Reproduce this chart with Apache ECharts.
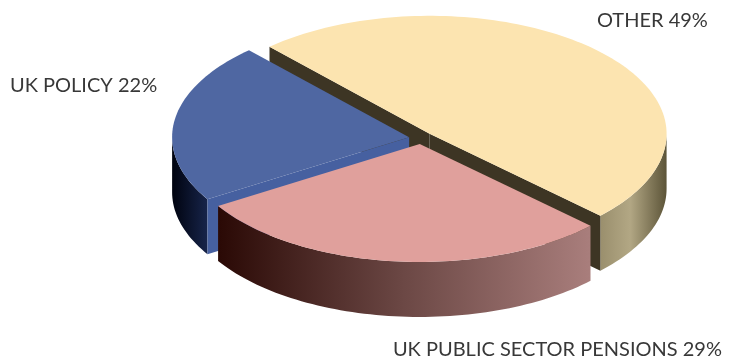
<!DOCTYPE html>
<html>
<head>
<meta charset="utf-8">
<script src="https://cdn.jsdelivr.net/npm/echarts@6/dist/echarts.min.js"></script>
<style>
  html, body { margin: 0; padding: 0; background: #ffffff; }
  #chart { width: 729px; height: 362px; }
</style>
</head>
<body>
<div id="chart"></div>
<script>
// Slices, in drawing order going clockwise from the upper-left cut
const categories = ['OTHER', 'UK PUBLIC SECTOR PENSIONS', 'UK POLICY'];
const shares = [49, 29, 22];

// Styling for each slice: top face, outer wall gradient, cut face
const topColors = ['#fce4b0', '#e0a09c', '#4f67a2'];
const wallStops = [
  [[0, '#9a8f6d'], [0.45, '#b2a784'], [1, '#5c5438']],
  [[0, '#2a0905'], [0.5, '#6c4845'], [1, '#a97e7c']],
  [[0, '#00030f'], [1, '#17244a']]
];
const cutColors = ['#3d3524', '#7a5250', '#4660a0'];

// Label placement (anchor x, centre y, alignment)
const labelLayout = [
  { x: 597, y: 21, align: 'left' },
  { x: 722, y: 350, align: 'right' },
  { x: 10, y: 86, align: 'left' }
];

// Pie geometry
const CX = 421, CY = 138;      // pie centre
const R = 237, RY = 118;       // ellipse radii of the tilted top
const DEPTH = 55;              // thickness of the disc
const EXPLODE = 12;            // how far each slice is pulled out
const START = 227.5;           // angle of the first cut, degrees (screen, clockwise)

const total = shares.reduce((a, b) => a + b, 0);
const rad = d => d * Math.PI / 180;

function sliceRange(i, value) {
  let a0 = START;
  for (let j = 0; j < i; j++) a0 += shares[j] / total * 360;
  return [a0, a0 + value / total * 360];
}

function arcPoints(vx, vy, from, to, dz) {
  const pts = [];
  const n = Math.max(2, Math.ceil(Math.abs(to - from) / 1.5));
  for (let k = 0; k <= n; k++) {
    const t = rad(from + (to - from) * k / n);
    pts.push([vx + R * Math.cos(t), vy + RY * Math.sin(t) + dz]);
  }
  return pts;
}

function renderSlice(params, api) {
  const i = params.dataIndex;
  const value = api.value(0);
  const [a0, a1] = sliceRange(i, value);
  const mid = rad((a0 + a1) / 2);
  const vx = CX + EXPLODE * Math.cos(mid);
  const vy = CY + EXPLODE * (RY / R) * Math.sin(mid);

  // slices further to the front are painted later
  const order = Math.round((Math.sin(mid) + 1) * 10);
  const children = [];

  // outer wall, only where it faces the viewer
  for (let n = -1; n <= 2; n++) {
    const lo = Math.max(a0, 360 * n);
    const hi = Math.min(a1, 360 * n + 180);
    if (hi > lo) {
      const topArc = arcPoints(vx, vy, lo, hi, 0);
      const botArc = arcPoints(vx, vy, hi, lo, DEPTH);
      children.push({
        type: 'polygon',
        z2: order * 10,
        shape: { points: topArc.concat(botArc) },
        style: {
          fill: new echarts.graphic.LinearGradient(0, 0, 1, 0,
            wallStops[i].map(s => ({ offset: s[0], color: s[1] }))),
          stroke: null
        }
      });
    }
  }

  // radial cut faces that turn toward the viewer
  const cutFace = (ang) => {
    const t = rad(ang);
    const px = vx + R * Math.cos(t), py = vy + RY * Math.sin(t);
    children.push({
      type: 'polygon',
      z2: order * 10 + 1,
      shape: { points: [[vx, vy], [px, py], [px, py + DEPTH], [vx, vy + DEPTH]] },
      style: { fill: cutColors[i], stroke: null }
    });
  };
  if (Math.cos(rad(a0)) < 0) cutFace(a0);
  if (Math.cos(rad(a1)) > 0) cutFace(a1);

  // top face
  children.push({
    type: 'polygon',
    z2: order * 10 + 2,
    shape: { points: [[vx, vy]].concat(arcPoints(vx, vy, a0, a1, 0)) },
    style: { fill: topColors[i], stroke: null }
  });

  return { type: 'group', children };
}

const chart = echarts.init(document.getElementById('chart'), null, { renderer: 'canvas' });
chart.setOption({
  animation: false,
  backgroundColor: '#ffffff',
  series: [{
    type: 'custom',
    coordinateSystem: 'none',
    renderItem: renderSlice,
    data: shares.map((v, i) => ({ name: categories[i], value: [v] }))
  }],
  graphic: categories.map((name, i) => ({
    type: 'text',
    x: labelLayout[i].x,
    y: labelLayout[i].y,
    style: {
      text: name + ' ' + shares[i] + '%',
      fill: '#383838',
      font: 'normal 20px Lato',
      align: labelLayout[i].align,
      verticalAlign: 'middle'
    }
  }))
});
</script>
</body>
</html>
